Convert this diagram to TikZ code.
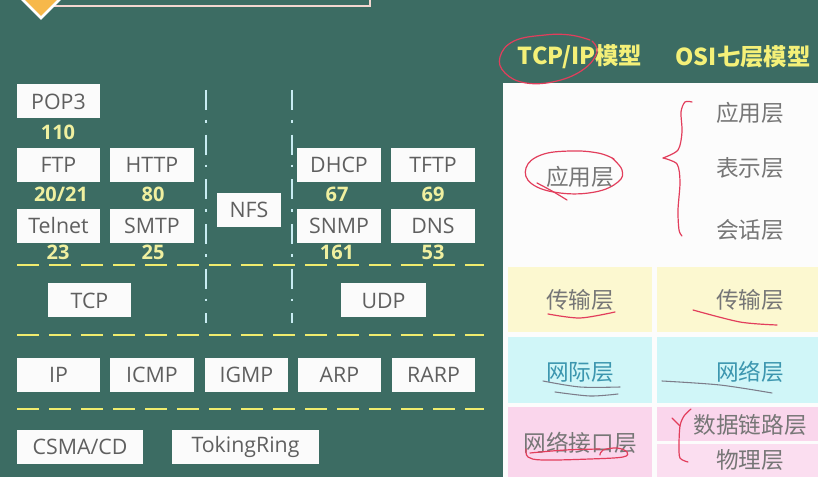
\documentclass[tikz,border=0pt]{standalone}
\usepackage{fontspec}
\setmainfont{Noto Sans CJK SC}
\newfontfamily\protofont{Open Sans}
\definecolor{board}{RGB}{60,108,99}
\definecolor{boxtext}{RGB}{95,95,95}
\definecolor{portnum}{RGB}{240,240,160}
\definecolor{dashyel}{RGB}{240,236,110}
\definecolor{dashcyan}{RGB}{200,236,242}
\definecolor{headyel}{RGB}{244,240,120}
\definecolor{cellyel}{RGB}{252,248,208}
\definecolor{cellcyan}{RGB}{208,246,248}
\definecolor{cellpink}{RGB}{250,214,236}
\definecolor{cellpinkb}{RGB}{251,222,240}
\definecolor{celltext}{RGB}{118,118,118}
\definecolor{netblue}{RGB}{60,150,175}
\definecolor{inkred}{RGB}{226,62,92}
\definecolor{inkgray}{RGB}{125,125,138}
\definecolor{tabfill}{RGB}{247,184,74}
\definecolor{tabline}{RGB}{243,214,208}
\begin{document}
\begin{tikzpicture}[x=0.75pt,y=-0.75pt,
  proto/.style={fill=white!97!gray, text=boxtext, inner sep=0pt,
    minimum width=62.5pt, minimum height=25.5pt,
    font=\protofont\fontsize{16}{19}\selectfont},
  port/.style={text=portnum, inner sep=0pt, font=\protofont\fontsize{15}{18}\selectfont\bfseries},
  layerdash/.style={dashyel, line width=2.2pt, dash pattern=on 16.5pt off 7.5pt},
  splitdash/.style={dashcyan, line width=1.5pt, dash pattern=on 15pt off 7.5pt on 2pt off 9pt},
  header/.style={text=headyel, inner sep=0pt, font=\fontsize{17.5}{20}\selectfont\bfseries},
  cell/.style={text=celltext, inner sep=0pt, font=\fontsize{17}{20}\selectfont},
  ink/.style={inkred, line width=0.9pt, line cap=round, line join=round},
  pencil/.style={inkgray, line width=0.8pt, line cap=round}]
\clip (0,0) rectangle (818,477);
\useasboundingbox (0,0) rectangle (818,477);
\fill[board] (0,0) rectangle (818,477);

% title tab at the top edge
\draw[tabline, line width=1.6pt] (52,-20) rectangle (370,6);
\filldraw[fill=tabfill, draw=white, line width=2pt]
  (41,-20) -- (60,-1) -- (41,18) -- (22,-1) -- cycle;

% protocol layer separators
\draw[layerdash] (17,265) -- (484,265);
\draw[layerdash] (17,335) -- (484,335);
\draw[layerdash] (17,409) -- (484,409);
\draw[splitdash] (206,90) -- (206,323);
\draw[splitdash] (292,90) -- (292,323);

% application protocols
\node[proto] (pop3) at (58.5,101.5) {POP3};
\node[proto] (ftp) at (58.5,165) {FTP};
\node[proto] (http) at (152,165) {HTTP};
\node[proto] (telnet) at (58.5,226) {Telnet};
\node[proto] (smtp) at (152,226) {SMTP};
\node[proto, minimum width=48pt] (nfs) at (249,210) {NFS};
\node[proto] (dhcp) at (339,165) {DHCP};
\node[proto] (tftp) at (433,165) {TFTP};
\node[proto] (snmp) at (339,226) {SNMP};
\node[proto] (dns) at (433,226) {DNS};

% well-known ports
\node[port] (p110) at (58,132) {110};
\node[port] (p2021) at (61,194) {20/21};
\node[port] (p80) at (153,194) {80};
\node[port] (p23) at (58,252) {23};
\node[port] (p25) at (153,252) {25};
\node[port] (p67) at (337,194) {67};
\node[port] (p69) at (433,194) {69};
\node[port] (p161) at (337,252) {161};
\node[port] (p53) at (433,252) {53};

% transport, internet and link protocols
\node[proto] (tcp) at (89.5,300.5) {TCP};
\node[proto, minimum width=64pt] (udp) at (383.5,300.5) {UDP};
\node[proto] (ip) at (58.5,375) {IP};
\node[proto] (icmp) at (152,375) {ICMP};
\node[proto] (igmp) at (246.5,375) {IGMP};
\node[proto] (arp) at (339.5,375) {ARP};
\node[proto] (rarp) at (433.5,375) {RARP};
\node[proto, minimum width=94.5pt] (csma) at (80,446.5) {CSMA/CD};
\node[proto, minimum width=110pt] (token) at (245.5,446.5) {TokingRing};

% model comparison table
\node[header] (hTcpip) at (580,57) {TCP/IP模型};
\node[header] (hOsi) at (743,57) {OSI七层模型};
\fill[white!98!gray] (503,83) rectangle (818,477);
\fill[cellyel] (508,267) rectangle (652,332);
\fill[cellyel] (657,267) rectangle (818,332);
\fill[cellcyan] (508,337) rectangle (652,403);
\fill[cellcyan] (657,337) rectangle (818,403);
\fill[cellpink] (508,407) rectangle (652,477);
\fill[cellpink] (657,407) rectangle (818,441);
\fill[cellpinkb] (657,444) rectangle (818,477);

\node[cell] (tApp) at (580,177) {应用层};
\node[cell] (oApp) at (750,113) {应用层};
\node[cell] (oPre) at (750,168) {表示层};
\node[cell] (oSes) at (750,230) {会话层};
\node[cell] (tTra) at (580,300) {传输层};
\node[cell] (oTra) at (750,300) {传输层};
\node[cell, text=netblue] (tNet) at (580,372) {网际层};
\node[cell, text=netblue] (oNet) at (750,372) {网络层};
\node[cell] (tLink) at (580,443) {网络接口层};
\node[cell] (oLink) at (750,425) {数据链路层};
\node[cell] (oPhy) at (750,460) {物理层};

% hand-drawn annotations
\draw[ink] plot[smooth, tension=0.7] coordinates {(590,40) (570,35) (545,35) (514,41) (500,57) (505,73) (526,83) (557,81) (584,69) (597,52) (592,41)};
\draw[ink] plot[smooth, tension=0.7] coordinates {(614,159) (598,153) (570,151) (541,155) (526,168) (532,184) (560,193) (595,192) (618,182) (622,170) (612,158)};
\draw[ink] plot[smooth] coordinates {(537,183) (552,191) (567,200)};
\draw[ink] plot[smooth] coordinates {(692,102) (685,102) (681,112) (682,132) (678,150) (663,158)};
\draw[ink] plot[smooth] coordinates {(663,158) (677,164) (680,182) (678,210) (679,230) (682,236)};
\draw[ink] plot[smooth] coordinates {(548,314) (580,318) (615,312)};
\draw[ink] plot[smooth] coordinates {(693,310) (740,322) (777,325)};
\draw[pencil] plot[smooth] coordinates {(543,381) (580,387) (620,387)};
\draw[pencil] plot[smooth] coordinates {(555,392) (590,396) (618,394)};
\draw[pencil] plot[smooth] coordinates {(662,381) (720,385) (772,393)};
\draw[ink] plot[smooth, tension=0.6] coordinates {(526,449) (528,457) (543,460) (590,459) (623,457) (627,452) (617,448) (603,450) (600,455)};
\draw[ink] plot[smooth] coordinates {(530,453) (565,450) (600,449)};
\draw[ink] plot[smooth] coordinates {(672,418) (680,426)};
\draw[ink] plot[smooth] coordinates {(691,409) (684,416) (680,426) (679,445) (680,458) (688,462)};
\end{tikzpicture}
\end{document}
